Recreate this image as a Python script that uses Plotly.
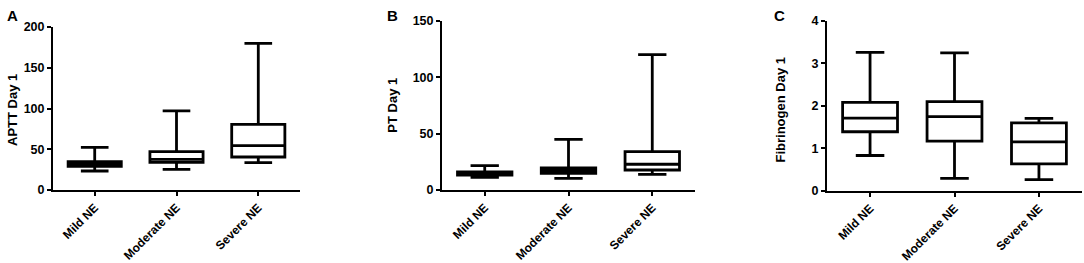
import plotly.graph_objects as go

categories = ["Mild NE", "Moderate NE", "Severe NE"]

# Panel A: APTT Day 1
aptt_low = [23.3, 25.4, 33.5]
aptt_q1 = [29.0, 34.0, 40.5]
aptt_med = [32.0, 37.5, 54.4]
aptt_q3 = [34.8, 47.0, 80.6]
aptt_high = [52.4, 97.0, 180.0]

# Panel B: PT Day 1
pt_low = [11.2, 10.3, 13.9]
pt_q1 = [13.3, 14.8, 17.7]
pt_med = [14.5, 17.0, 22.8]
pt_q3 = [16.0, 19.5, 34.0]
pt_high = [21.6, 44.9, 120.0]

# Panel C: Fibrinogen Day 1
fib_low = [0.83, 0.29, 0.26]
fib_q1 = [1.39, 1.17, 0.63]
fib_med = [1.71, 1.745, 1.15]
fib_q3 = [2.08, 2.10, 1.60]
fib_high = [3.26, 3.25, 1.705]

y_titles = ["APTT Day 1", "PT Day 1", "Fibrinogen Day 1"]
panel_letters = ["A", "B", "C"]
y_ticks = [[0, 50, 100, 150, 200], [0, 50, 100, 150], [0, 1, 2, 3, 4]]
y_ranges = [[0, 200], [0, 150], [0, 4]]

W, H = 1084, 263
FONT = "Liberation Sans, Arial, sans-serif"

# pixel layout of the panels
x_doms_px = [(53, 300), (442, 695), (827, 1082)]
y_doms_px = [(27, 190), (20.7, 190), (21, 190.7)]
title_pos = [(12, 110), (393, 105.7), (779.5, 110)]
letter_pos = [(12, 15.5), (392, 16), (779, 15.5)]

data = [
    (aptt_low, aptt_q1, aptt_med, aptt_q3, aptt_high),
    (pt_low, pt_q1, pt_med, pt_q3, pt_high),
    (fib_low, fib_q1, fib_med, fib_q3, fib_high),
]

fig = go.Figure()
layout = dict(
    template="none",
    width=W, height=H, margin=dict(l=0, r=0, t=0, b=0, autoexpand=False),
    paper_bgcolor="white", plot_bgcolor="white", showlegend=False,
    font=dict(family=FONT, color="black"),
    annotations=[],
)

for i, (lo, q1, med, q3, hi) in enumerate(data):
    xa = "x" if i == 0 else f"x{i+1}"
    ya = "y" if i == 0 else f"y{i+1}"
    fig.add_trace(go.Box(
        x=categories, lowerfence=lo, q1=q1, median=med, q3=q3, upperfence=hi,
        xaxis=xa, yaxis=ya, boxpoints=False, width=0.65, whiskerwidth=0.52,
        fillcolor="white", line=dict(color="black", width=2.8),
        hoverinfo="skip",
    ))
    xk = "xaxis" if i == 0 else f"xaxis{i+1}"
    yk = "yaxis" if i == 0 else f"yaxis{i+1}"
    x0, x1 = x_doms_px[i]
    yt, yb = y_doms_px[i]
    layout[xk] = dict(
        domain=[x0 / W, x1 / W], anchor=ya, type="category",
        range=[-0.51, 2.51], showline=True, linecolor="black", linewidth=2,
        ticks="outside", ticklen=4, tickwidth=2, tickcolor="black",
        tickangle=-45, showgrid=False, zeroline=False, automargin=False,
        tickvals=categories, ticktext=[f"<b>{c}</b>" for c in categories],
        tickfont=dict(family=FONT, size=12, color="black"),
    )
    layout[yk] = dict(
        domain=[1 - yb / H, 1 - yt / H], anchor=xa,
        range=y_ranges[i], tickvals=y_ticks[i],
        ticktext=[f"<b>{v}</b>" for v in y_ticks[i]], showline=True,
        linecolor="black", linewidth=2, ticks="outside", ticklen=4,
        tickwidth=2, tickcolor="black", showgrid=False, zeroline=False,
        automargin=False,
        tickfont=dict(family=FONT, size=12.5, color="black"),
    )
    tx, ty = title_pos[i]
    layout["annotations"].append(dict(
        text=f"<b>{y_titles[i]}</b>", x=tx / W, y=1 - ty / H,
        xref="paper", yref="paper",
        textangle=-90, showarrow=False, xanchor="center", yanchor="middle",
        font=dict(family=FONT, size=13, color="black"),
    ))
    lx, ly = letter_pos[i]
    layout["annotations"].append(dict(
        text=f"<b>{panel_letters[i]}</b>", x=lx / W, y=1 - ly / H,
        xref="paper", yref="paper",
        showarrow=False, xanchor="center", yanchor="middle",
        font=dict(family=FONT, size=15, color="black"),
    ))

fig.update_layout(**layout)
fig.write_html(
    "out.html",
    config={"displayModeBar": False, "staticPlot": True},
    post_script="document.body.style.margin='0px';document.body.style.overflow='hidden';",
)
